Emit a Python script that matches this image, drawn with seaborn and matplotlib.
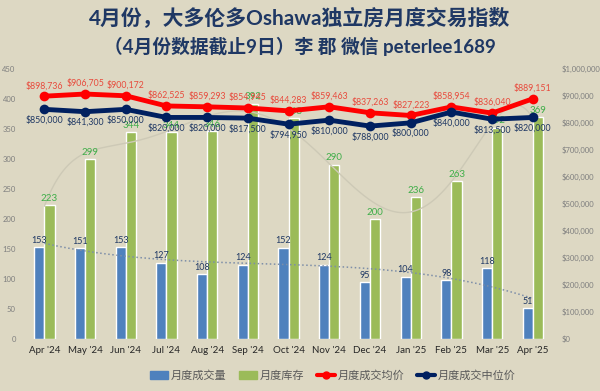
# Oshawa detached monthly index: bars for sales/inventory, lines for prices
import numpy as np
import pandas as pd
import seaborn as sns
import matplotlib.pyplot as plt
from matplotlib.lines import Line2D
from matplotlib.patches import Patch
from matplotlib.ticker import FuncFormatter, MultipleLocator

months = ["Apr '24", "May '24", "Jun '24", "Jul '24", "Aug '24", "Sep '24", "Oct '24",
          "Nov '24", "Dec '24", "Jan '25", "Feb '25", "Mar '25", "Apr '25"]
sales = [153, 151, 153, 127, 108, 124, 152, 124, 95, 104, 98, 118, 51]
inventory = [223, 299, 344, 344, 346, 392, 368, 290, 200, 236, 263, 352, 369]
avg_price = [898736, 906705, 900172, 862525, 859293, 854945, 844283,
             859463, 837263, 827223, 858954, 836040, 889151]
median_price = [850000, 841300, 850000, 820000, 820000, 817500, 794950,
                810000, 788000, 800000, 840000, 813500, 820000]

BG = "#ddd8c3"
BLUE = "#4f81bd"
GREEN = "#9bbb59"
RED = "#ff0000"
NAVY = "#002060"

sns.set_theme(style="white")
plt.rcParams["font.family"] = ["Lato", "Noto Sans CJK SC", "DejaVu Sans"]

fig = plt.figure(figsize=(6, 3.91), dpi=100, facecolor=BG)
ax = fig.add_axes([0.04, 0.133, 0.882, 0.691])
ax.set_facecolor(BG)

df = pd.DataFrame({
    "month": months * 2,
    "value": sales + inventory,
    "series": ["月度成交量"] * len(months) + ["月度库存"] * len(months),
})
sns.barplot(data=df, x="month", y="value", hue="series", palette=[BLUE, GREEN],
            width=0.5, gap=0, ax=ax, legend=False, saturation=1)

x = np.arange(len(months))
# trend lines (polynomial fits like Excel trendlines)
xs = np.linspace(0, len(months) - 1, 200)
ax.plot(xs, np.polyval(np.polyfit(x, sales, 3), xs), ls=":", color="#7d8ea8", lw=1.1, zorder=3)
ax.plot(xs, np.polyval(np.polyfit(x, inventory, 6), xs), ls="-", color="#cdc9b6", lw=1.0, zorder=3)

for i in range(len(months)):
    ax.text(i - 0.125, sales[i] + 4, str(sales[i]), ha="center", va="bottom",
            fontsize=6.5, color="#1f3864", zorder=4)
    ax.text(i + 0.125, inventory[i] + 4, str(inventory[i]), ha="center", va="bottom",
            fontsize=7, color="#3fae49", zorder=4)

ax.set_ylim(0, 450)
ax.set_xlim(-0.5, len(months) - 0.5)
ax.yaxis.set_major_locator(MultipleLocator(50))
ax.set_xlabel("")
ax.set_ylabel("")
ax.tick_params(axis="y", labelsize=5.5, colors="#7f7f7f", length=0, pad=6)
ax.tick_params(axis="x", labelsize=7, colors="#262626", length=0, pad=5)

ax2 = ax.twinx()
sns.lineplot(x=x, y=avg_price, ax=ax2, color=RED, lw=3.5, marker="o", markersize=7,
             markeredgewidth=0)
sns.lineplot(x=x, y=median_price, ax=ax2, color=NAVY, lw=3.5, marker="o", markersize=7,
             markeredgewidth=0)
for i in range(len(months)):
    ax2.text(i, avg_price[i] + 22000, f"${avg_price[i]:,}", ha="center", va="bottom",
             fontsize=6.3, color="#e84a3c")
    ax2.text(i, median_price[i] - 22000, f"${median_price[i]:,}", ha="center", va="top",
             fontsize=6.3, color="#1f3864")
ax2.set_ylim(0, 1000000)
ax2.yaxis.set_major_locator(MultipleLocator(100000))
ax2.yaxis.set_major_formatter(FuncFormatter(lambda v, p: f"${v:,.0f}"))
ax2.tick_params(axis="y", labelsize=5.5, colors="#7f7f7f", length=0, pad=6)
ax2.set_xlim(-0.5, len(months) - 0.5)

for a in (ax, ax2):
    for s in a.spines.values():
        s.set_visible(False)

fig.text(0.5, 0.955, "4月份，大多伦多Oshawa独立房月度交易指数", ha="center", va="center",
         fontsize=15, fontweight="bold", color="#1f3864")
fig.text(0.5, 0.88, "（4月份数据截止9日）李 郡 微信 peterlee1689", ha="center", va="center",
         fontsize=13.5, fontweight="bold", color="#1f3864")

handles = [
    Patch(color=BLUE, label="月度成交量"),
    Patch(color=GREEN, label="月度库存"),
    Line2D([], [], color=RED, lw=3, marker="o", markersize=5, label="月度成交均价"),
    Line2D([], [], color=NAVY, lw=3, marker="o", markersize=5, label="月度成交中位价"),
]
fig.legend(handles=handles, loc="center", bbox_to_anchor=(0.555, 0.04), ncol=4, frameon=False,
           fontsize=8, labelcolor="#595959", handlelength=1.6, columnspacing=1.1,
           handletextpad=0.3)

plt.savefig("out.png", dpi=100, facecolor=BG)
